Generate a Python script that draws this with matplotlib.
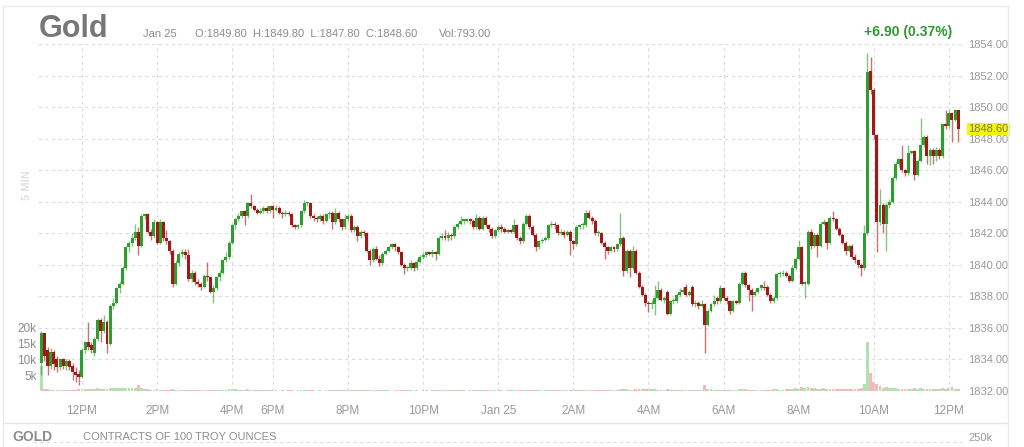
import matplotlib
matplotlib.use("Agg")
import matplotlib.pyplot as plt
from matplotlib.lines import Line2D
import numpy as np

plt.rcParams['font.family'] = ['Liberation Sans', 'DejaVu Sans']

# 5-minute gold bars, Jan 24 ~10:55 -> Jan 25 ~12:15 (trading time, no gaps)
opens = [
    1833.8, 1835.7, 1834.6, 1833.6, 1834.5, 1834.0, 1833.5, 1834.0, 1833.6, 1833.9,
    1833.6, 1833.2, 1833.1, 1832.9, 1834.6, 1835.1, 1834.9, 1834.4, 1835.3, 1836.5,
    1835.8, 1836.4, 1835.0, 1837.4, 1837.6, 1838.5, 1838.8, 1839.8, 1841.1, 1841.4,
    1841.7, 1842.1, 1841.2, 1843.1, 1843.2, 1842.1, 1841.8, 1842.7, 1841.4, 1842.7,
    1841.7, 1841.5, 1840.9, 1838.8, 1840.1, 1840.7, 1840.8, 1840.6, 1839.1, 1839.5,
    1838.9, 1838.8, 1838.6, 1839.3, 1839.2, 1838.3, 1838.5, 1839.2, 1839.5, 1840.3,
    1840.5, 1841.4, 1842.5, 1842.9, 1843.1, 1843.4, 1843.1, 1843.9, 1843.7, 1843.5,
    1843.3, 1843.4, 1843.6, 1843.4, 1843.7, 1843.5, 1843.6, 1843.3, 1843.2, 1843.3,
    1843.2, 1842.5, 1842.4, 1842.5, 1843.4, 1843.9, 1843.9, 1843.1, 1843.0, 1842.9,
    1843.1, 1842.8, 1843.2, 1843.3, 1842.7, 1843.3, 1842.9, 1842.4, 1842.9, 1843.1,
    1842.2, 1842.4, 1841.8, 1842.1, 1842.0, 1840.9, 1840.3, 1841.0, 1840.4, 1840.1,
    1840.7, 1840.9, 1841.1, 1841.3, 1841.1, 1840.8, 1840.0, 1839.8, 1839.8, 1840.1,
    1839.8, 1840.2, 1840.5, 1840.6, 1840.8, 1840.7, 1840.8, 1840.7, 1841.7, 1841.8,
    1841.7, 1841.9, 1841.8, 1842.4, 1842.6, 1842.8, 1842.8, 1842.9, 1842.8, 1842.4,
    1843.0, 1842.3, 1843.0, 1842.5, 1842.3, 1841.8, 1842.2, 1842.4, 1842.3, 1842.1,
    1842.2, 1842.1, 1842.5, 1841.7, 1841.5, 1842.6, 1843.1, 1842.4, 1841.9, 1841.1,
    1841.5, 1841.6, 1841.7, 1842.5, 1842.6, 1842.5, 1842.0, 1842.1, 1841.9, 1842.1,
    1841.5, 1841.3, 1842.4, 1842.5, 1842.5, 1843.3, 1843.0, 1842.8, 1842.0, 1842.0,
    1841.4, 1841.1, 1840.9, 1841.1, 1841.0, 1841.3, 1841.7, 1839.6, 1840.9, 1839.8,
    1840.9, 1839.5, 1838.6, 1838.1, 1837.6, 1837.5, 1837.5, 1837.9, 1838.4, 1837.8,
    1838.3, 1836.9, 1837.7, 1837.7, 1838.1, 1838.3, 1838.6, 1838.1, 1838.6, 1837.5,
    1837.6, 1837.4, 1837.5, 1836.2, 1837.1, 1837.5, 1837.9, 1837.7, 1838.5, 1837.9,
    1837.7, 1837.1, 1837.7, 1837.6, 1838.8, 1839.5, 1838.7, 1838.4, 1838.1, 1838.3,
    1838.5, 1838.6, 1838.6, 1838.1, 1837.7, 1837.9, 1839.4, 1839.4, 1839.5, 1839.3,
    1839.0, 1839.8, 1840.4, 1841.1, 1838.8, 1838.8, 1842.1, 1841.2, 1841.9, 1841.2,
    1842.6, 1842.7, 1841.4, 1843.0, 1842.9, 1842.3, 1841.9, 1841.4, 1840.9, 1841.2,
    1840.5, 1840.3, 1840.0, 1839.8, 1842.0, 1852.3, 1851.1, 1848.2, 1842.7, 1843.8,
    1842.6, 1843.8, 1844.0, 1845.5, 1846.4, 1846.7, 1846.0, 1845.8, 1847.1, 1847.2,
    1845.7, 1846.6, 1847.6, 1848.1, 1846.9, 1847.3, 1846.9, 1847.3, 1846.9, 1848.9,
    1848.8, 1849.6, 1849.2, 1849.8,
]
highs = [
    1835.8, 1835.7, 1834.8, 1834.7, 1834.6, 1834.2, 1834.1, 1834.1, 1834.0, 1834.0,
    1833.8, 1833.5, 1833.3, 1834.7, 1835.2, 1836.4, 1835.1, 1835.4, 1836.6, 1836.6,
    1836.8, 1836.5, 1837.5, 1837.9, 1838.6, 1839.0, 1839.9, 1841.2, 1841.5, 1842.0,
    1842.6, 1842.4, 1843.2, 1843.3, 1843.3, 1842.3, 1842.9, 1842.8, 1842.9, 1842.8,
    1842.2, 1841.6, 1841.0, 1840.3, 1840.8, 1841.0, 1841.0, 1841.0, 1839.7, 1839.6,
    1839.1, 1838.9, 1839.4, 1840.2, 1839.3, 1838.7, 1839.3, 1839.7, 1840.4, 1840.8,
    1841.5, 1842.6, 1843.0, 1843.3, 1843.5, 1843.5, 1844.0, 1844.5, 1843.8, 1843.6,
    1843.6, 1843.7, 1843.7, 1843.8, 1843.8, 1843.8, 1843.7, 1843.4, 1843.5, 1843.4,
    1843.3, 1842.6, 1842.6, 1843.5, 1844.1, 1844.0, 1844.0, 1843.2, 1843.1, 1843.2,
    1843.2, 1843.3, 1843.4, 1843.4, 1843.6, 1843.4, 1843.0, 1843.2, 1843.2, 1843.2,
    1842.5, 1842.5, 1842.2, 1842.2, 1842.1, 1841.0, 1841.1, 1841.2, 1840.6, 1840.8,
    1841.0, 1841.2, 1841.4, 1841.4, 1841.2, 1840.9, 1840.1, 1839.9, 1840.3, 1840.2,
    1840.4, 1840.6, 1840.8, 1840.9, 1840.9, 1841.0, 1840.9, 1841.8, 1842.0, 1842.2,
    1842.1, 1842.0, 1842.5, 1842.7, 1843.1, 1842.9, 1843.0, 1843.0, 1842.9, 1843.2,
    1843.1, 1843.1, 1843.1, 1842.6, 1842.4, 1842.3, 1842.5, 1842.6, 1842.4, 1842.3,
    1842.3, 1842.9, 1842.6, 1841.8, 1842.7, 1843.2, 1843.2, 1842.5, 1842.0, 1841.6,
    1841.7, 1841.8, 1842.6, 1842.8, 1842.7, 1842.6, 1842.3, 1842.2, 1842.2, 1842.2,
    1841.6, 1842.5, 1842.6, 1842.7, 1843.5, 1843.5, 1843.1, 1842.9, 1842.2, 1842.1,
    1841.5, 1841.2, 1841.2, 1841.2, 1841.4, 1843.3, 1841.8, 1841.0, 1841.0, 1841.2,
    1841.0, 1839.6, 1838.7, 1838.2, 1837.7, 1837.8, 1838.7, 1839.0, 1838.5, 1838.0,
    1838.4, 1837.8, 1837.9, 1838.2, 1838.5, 1838.6, 1838.8, 1838.4, 1838.7, 1837.8,
    1837.7, 1837.8, 1837.6, 1837.2, 1837.6, 1838.1, 1838.0, 1838.7, 1838.6, 1838.0,
    1837.8, 1837.8, 1837.8, 1838.9, 1839.6, 1839.6, 1838.8, 1838.5, 1838.4, 1838.6,
    1838.8, 1839.0, 1838.7, 1838.2, 1838.0, 1839.5, 1839.6, 1839.7, 1839.6, 1839.4,
    1840.0, 1840.5, 1841.6, 1841.2, 1839.0, 1842.2, 1842.3, 1842.0, 1842.0, 1842.7,
    1842.9, 1842.8, 1843.1, 1843.4, 1843.0, 1842.4, 1842.0, 1841.5, 1841.3, 1841.3,
    1840.7, 1840.4, 1840.1, 1842.5, 1853.4, 1853.2, 1851.2, 1848.3, 1844.8, 1843.9,
    1843.9, 1844.2, 1845.6, 1846.6, 1846.8, 1847.6, 1846.1, 1847.6, 1847.3, 1847.3,
    1846.7, 1849.3, 1848.2, 1848.2, 1847.4, 1847.4, 1847.5, 1847.4, 1849.0, 1849.8,
    1849.8, 1849.7, 1849.9, 1849.8,
]
lows = [
    1833.0, 1833.9, 1833.0, 1833.4, 1833.3, 1833.2, 1833.3, 1833.4, 1833.3, 1833.3,
    1832.7, 1832.6, 1832.4, 1832.8, 1834.4, 1834.6, 1834.4, 1834.2, 1835.2, 1835.1,
    1835.7, 1834.4, 1834.9, 1837.2, 1837.5, 1838.2, 1838.7, 1839.7, 1840.8, 1841.2,
    1841.6, 1840.6, 1841.1, 1842.9, 1842.0, 1841.6, 1841.7, 1841.3, 1841.3, 1841.5,
    1841.3, 1840.7, 1838.6, 1838.7, 1839.9, 1840.5, 1840.4, 1839.0, 1838.9, 1838.7,
    1838.6, 1838.4, 1838.5, 1839.0, 1838.2, 1837.6, 1838.4, 1839.0, 1839.4, 1840.2,
    1840.4, 1841.3, 1842.3, 1842.8, 1843.0, 1842.5, 1843.0, 1843.6, 1843.4, 1843.2,
    1843.2, 1843.3, 1843.3, 1843.3, 1843.0, 1843.4, 1843.2, 1843.0, 1843.1, 1843.1,
    1842.4, 1842.3, 1842.3, 1842.4, 1843.3, 1843.7, 1843.0, 1842.8, 1842.7, 1842.8,
    1842.6, 1842.7, 1843.0, 1842.3, 1842.6, 1842.7, 1842.2, 1842.3, 1842.8, 1842.1,
    1842.1, 1841.5, 1841.7, 1841.8, 1840.8, 1840.0, 1840.2, 1840.3, 1839.9, 1840.0,
    1840.6, 1840.8, 1841.0, 1840.9, 1840.7, 1839.9, 1839.4, 1839.6, 1839.7, 1839.6,
    1839.7, 1840.1, 1840.4, 1840.5, 1840.6, 1840.5, 1840.3, 1840.6, 1841.6, 1841.6,
    1841.5, 1841.6, 1841.7, 1842.3, 1842.5, 1842.6, 1842.7, 1842.6, 1842.3, 1842.3,
    1842.2, 1842.2, 1842.4, 1842.1, 1841.7, 1841.7, 1842.1, 1842.1, 1842.0, 1842.0,
    1842.0, 1842.0, 1841.6, 1841.3, 1841.4, 1842.5, 1842.3, 1841.8, 1840.9, 1841.0,
    1841.4, 1841.5, 1841.6, 1842.4, 1842.3, 1841.9, 1841.9, 1841.7, 1841.8, 1840.6,
    1841.0, 1841.2, 1842.3, 1842.3, 1842.4, 1842.9, 1842.6, 1841.9, 1841.8, 1841.3,
    1840.4, 1840.7, 1840.8, 1840.8, 1840.9, 1841.2, 1839.3, 1839.5, 1839.2, 1839.7,
    1839.4, 1838.5, 1838.0, 1837.4, 1837.0, 1837.2, 1836.8, 1837.8, 1837.7, 1837.6,
    1836.8, 1836.8, 1837.5, 1837.6, 1838.0, 1838.2, 1838.0, 1838.0, 1837.4, 1837.3,
    1837.2, 1837.3, 1834.4, 1836.1, 1837.0, 1837.4, 1837.5, 1837.6, 1837.8, 1837.5,
    1836.9, 1837.0, 1837.5, 1837.5, 1838.7, 1838.6, 1837.7, 1837.1, 1838.0, 1838.2,
    1838.4, 1838.4, 1838.0, 1837.6, 1837.6, 1837.8, 1839.2, 1839.3, 1839.2, 1838.9,
    1838.9, 1839.7, 1840.3, 1838.7, 1837.9, 1838.7, 1841.0, 1841.1, 1840.5, 1841.1,
    1842.5, 1841.0, 1841.3, 1842.8, 1842.2, 1841.8, 1841.3, 1840.6, 1840.8, 1840.4,
    1840.1, 1839.8, 1839.3, 1839.7, 1841.9, 1850.8, 1848.0, 1840.8, 1842.5, 1842.0,
    1840.9, 1843.6, 1843.9, 1845.4, 1846.2, 1845.9, 1845.6, 1845.7, 1847.0, 1845.4,
    1845.6, 1846.5, 1847.5, 1846.4, 1846.3, 1846.4, 1846.6, 1846.7, 1846.8, 1848.6,
    1848.7, 1847.8, 1849.1, 1847.8,
]
closes = [
    1835.7, 1834.2, 1833.6, 1834.5, 1833.7, 1833.5, 1834.0, 1833.6, 1833.9, 1833.5,
    1833.2, 1833.0, 1832.9, 1834.6, 1835.1, 1834.8, 1834.6, 1835.3, 1836.5, 1835.8,
    1836.4, 1835.0, 1837.4, 1837.6, 1838.5, 1838.8, 1839.8, 1841.1, 1841.4, 1841.7,
    1842.1, 1841.2, 1843.1, 1843.2, 1842.1, 1841.8, 1842.7, 1841.4, 1842.7, 1841.7,
    1841.5, 1840.9, 1838.8, 1840.1, 1840.7, 1840.8, 1840.6, 1839.1, 1839.5, 1838.9,
    1838.8, 1838.6, 1839.3, 1839.2, 1838.3, 1838.5, 1839.2, 1839.5, 1840.3, 1840.5,
    1841.4, 1842.5, 1842.9, 1843.1, 1843.4, 1843.1, 1843.9, 1843.7, 1843.5, 1843.3,
    1843.4, 1843.6, 1843.4, 1843.7, 1843.5, 1843.6, 1843.3, 1843.2, 1843.3, 1843.2,
    1842.5, 1842.4, 1842.5, 1843.4, 1843.9, 1843.9, 1843.1, 1843.0, 1842.9, 1843.1,
    1842.8, 1843.2, 1843.3, 1842.7, 1843.3, 1842.9, 1842.4, 1842.9, 1843.1, 1842.2,
    1842.4, 1841.8, 1842.1, 1842.0, 1840.9, 1840.3, 1841.0, 1840.4, 1840.1, 1840.7,
    1840.9, 1841.1, 1841.3, 1841.1, 1840.8, 1840.0, 1839.8, 1839.8, 1840.1, 1839.8,
    1840.2, 1840.5, 1840.6, 1840.8, 1840.7, 1840.8, 1840.7, 1841.7, 1841.8, 1841.7,
    1841.9, 1841.8, 1842.4, 1842.6, 1842.8, 1842.8, 1842.9, 1842.8, 1842.4, 1843.0,
    1842.3, 1843.0, 1842.5, 1842.3, 1841.8, 1842.2, 1842.4, 1842.3, 1842.1, 1842.2,
    1842.1, 1842.5, 1841.7, 1841.5, 1842.6, 1843.1, 1842.4, 1841.9, 1841.1, 1841.5,
    1841.6, 1841.7, 1842.5, 1842.6, 1842.5, 1842.0, 1842.1, 1841.9, 1842.1, 1841.5,
    1841.3, 1842.4, 1842.5, 1842.5, 1843.3, 1843.0, 1842.8, 1842.0, 1842.0, 1841.4,
    1841.1, 1840.9, 1841.1, 1841.0, 1841.3, 1841.7, 1839.6, 1840.9, 1839.8, 1840.9,
    1839.5, 1838.6, 1838.1, 1837.6, 1837.5, 1837.5, 1837.9, 1838.4, 1837.8, 1837.8,
    1836.9, 1837.7, 1837.7, 1838.1, 1838.3, 1838.4, 1838.1, 1838.3, 1837.5, 1837.6,
    1837.4, 1837.5, 1836.2, 1837.1, 1837.5, 1837.7, 1837.7, 1838.5, 1837.9, 1837.7,
    1837.1, 1837.7, 1837.6, 1838.8, 1839.5, 1838.7, 1838.4, 1838.1, 1838.3, 1838.5,
    1838.7, 1838.5, 1838.1, 1837.7, 1837.9, 1839.4, 1839.4, 1839.5, 1839.3, 1839.0,
    1839.8, 1840.4, 1841.1, 1838.8, 1838.8, 1842.1, 1841.2, 1841.9, 1841.2, 1842.6,
    1842.7, 1841.4, 1843.0, 1842.9, 1842.3, 1841.9, 1841.4, 1840.9, 1841.2, 1840.5,
    1840.3, 1840.0, 1839.8, 1842.0, 1852.2, 1851.1, 1848.2, 1842.7, 1843.8, 1842.6,
    1843.8, 1844.0, 1845.5, 1846.4, 1846.7, 1846.0, 1845.8, 1847.1, 1847.2, 1845.7,
    1846.6, 1847.6, 1848.1, 1846.9, 1847.3, 1846.9, 1847.3, 1846.9, 1848.9, 1848.8,
    1849.6, 1849.2, 1849.8, 1848.6,
]
volumes = [
    8000, 600, 500, 400, 450, 350, 400, 300, 350, 300,
    450, 400, 500, 700, 600, 650, 500, 700, 800, 600,
    550, 750, 900, 800, 850, 900, 1000, 1100, 900, 800,
    1100, 2000, 900, 700, 500, 450, 400, 500, 400, 350,
    300, 350, 600, 400, 300, 250, 300, 450, 300, 250,
    300, 250, 300, 400, 350, 300, 350, 300, 400, 350,
    500, 600, 700, 450, 400, 350, 500, 400, 300, 250,
    200, 250, 200, 300, 250, 200, 150, 200, 150, 200,
    250, 150, 200, 300, 250, 200, 250, 200, 150, 200,
    150, 200, 250, 300, 250, 200, 300, 400, 600, 300,
    250, 300, 200, 250, 350, 400, 300, 250, 300, 200,
    250, 200, 150, 200, 250, 300, 350, 250, 200, 150,
    200, 150, 250, 200, 150, 200, 250, 400, 300, 200,
    250, 200, 300, 250, 300, 200, 150, 200, 250, 300,
    250, 300, 200, 250, 300, 200, 250, 200, 150, 200,
    250, 300, 350, 300, 400, 350, 300, 350, 450, 300,
    250, 300, 350, 300, 250, 300, 250, 300, 250, 400,
    350, 400, 300, 350, 450, 350, 300, 400, 300, 350,
    400, 300, 250, 300, 350, 500, 700, 600, 450, 400,
    550, 600, 650, 700, 750, 600, 500, 450, 400, 350,
    500, 400, 300, 350, 300, 250, 300, 400, 350, 300,
    250, 300, 2000, 700, 500, 400, 350, 300, 400, 350,
    400, 350, 300, 600, 700, 500, 400, 450, 350, 300,
    350, 300, 400, 350, 700, 500, 400, 350, 500, 600,
    700, 900, 600, 1200, 800, 1400, 900, 1100, 700, 600,
    800, 700, 600, 500, 550, 600, 500, 650, 600, 550,
    600, 700, 900, 2200, 15500, 5800, 3000, 2200, 1500, 1100,
    1200, 900, 1000, 800, 700, 750, 600, 700, 650, 800,
    600, 900, 700, 650, 600, 700, 550, 600, 900, 700,
    800, 1300, 600, 500,
]

# time labels and the bar at which each falls
tick_bars = [13, 37, 61, 74, 98, 122, 146, 170, 194, 218, 242, 266, 290]
tick_labels = ['12PM', '2PM', '4PM', '6PM', '8PM', '10PM', 'Jan 25',
               '2AM', '4AM', '6AM', '8AM', '10AM', '12PM']
price_ticks = [1832, 1834, 1836, 1838, 1840, 1842, 1844, 1846, 1848, 1850, 1852, 1854]
vol_ticks = [5000, 10000, 15000, 20000]
vol_labels = ['5k', '10k', '15k', '20k']
last_price = 1848.60

W, H = 1024, 447
GREEN, RED = '#2e9f2e', '#a01818'
GRID = '#dcdcdc'
TXT = '#8c8c8c'


def fx(x):
    return x / W


def fy(y):
    return 1 - y / H


fig = plt.figure(figsize=(W / 100, H / 100), dpi=100)
fig.patch.set_facecolor('white')

ax = fig.add_axes([fx(38), fy(391), (962 - 38) / W, (391 - 44) / H])
ax2 = ax.twinx()
ax.set_zorder(ax2.get_zorder() + 1)
ax.patch.set_visible(False)

o = np.array(opens)
h = np.array(highs)
l = np.array(lows)
c = np.array(closes)
v = np.array(volumes)
idx = np.arange(len(c))
up = c >= o

# volume
ax2.bar(idx[up], v[up], width=0.9, color='#7fcf7f', alpha=0.6, linewidth=0)
ax2.bar(idx[~up], v[~up], width=0.9, color='#f08a8a', alpha=0.6, linewidth=0)
ax2.set_ylim(0, 110000)
ax2.yaxis.set_ticks_position('left')
ax2.set_yticks(vol_ticks)
ax2.set_yticklabels(vol_labels)
ax2.tick_params(axis='y', length=0, pad=1, labelsize=8.5, labelcolor=TXT)
for s in ax2.spines.values():
    s.set_visible(False)

# candles
ax.vlines(idx[up], l[up], h[up], color=GREEN, alpha=0.6, lw=1.0)
ax.vlines(idx[~up], l[~up], h[~up], color=RED, alpha=0.6, lw=1.0)
ax.bar(idx[up], np.maximum(c[up] - o[up], 0.08), bottom=o[up], width=0.95,
       color=GREEN, linewidth=0)
ax.bar(idx[~up], o[~up] - c[~up], bottom=c[~up], width=0.95,
       color=RED, linewidth=0)

ax.set_xlim(-1.05, 294.2)
ax.set_ylim(1832, 1854)
ax.set_xticks(tick_bars)
ax.set_xticklabels(tick_labels)
ax.set_yticks(price_ticks)
ax.set_yticklabels([f'{p:.2f}' for p in price_ticks])
ax.yaxis.tick_right()
ax.tick_params(axis='x', length=0, labelsize=8.5, labelcolor='#999999', pad=10)
ax.tick_params(axis='y', length=0, labelsize=8, labelcolor='#999999', pad=4.5)
ax.grid(True, color=GRID, lw=0.8, ls=(0, (3, 3)))
ax.set_axisbelow(True)
for s in ax.spines.values():
    s.set_visible(False)

# last price highlight
ax.annotate(f'{last_price:.2f}', xy=(1, last_price), xycoords=('axes fraction', 'data'),
            xytext=(4.5, 0), textcoords='offset points', va='center', ha='left',
            fontsize=8, color='#777777',
            bbox=dict(boxstyle='square,pad=0.1', fc='#f5f50a', ec='none'))

# header
fig.text(fx(39), fy(37), 'Gold', fontsize=22, fontweight='bold', color='#777777', va='baseline')
fig.text(fx(143), fy(37), 'Jan 25', fontsize=8, color=TXT, va='baseline')
fig.text(fx(195), fy(37), 'O:1849.80  H:1849.80  L:1847.80  C:1848.60',
         fontsize=8, color=TXT, va='baseline')
fig.text(fx(439), fy(37), 'Vol:793.00', fontsize=8, color=TXT, va='baseline')
fig.text(fx(952), fy(36), '+6.90 (0.37%)', fontsize=10, fontweight='bold',
         color='#2e9a2e', ha='right', va='baseline')
fig.text(fx(27), fy(185), '5 MIN', rotation=90, fontsize=8, fontweight='bold',
         color='#e0e0e0', ha='center', va='center')

# footer
fig.text(fx(12), fy(441), 'GOLD', fontsize=10, fontweight='bold', color=TXT, va='baseline')
fig.text(fx(83), fy(440), 'CONTRACTS OF 100 TROY OUNCES', fontsize=8, color=TXT, va='baseline')
fig.text(fx(968), fy(438), '250k', fontsize=8, color='#999999', va='center')

# frame lines
fig.add_artist(Line2D([fx(3), fx(1008)], [fy(6), fy(6)], color='#ebebeb', lw=1))
fig.add_artist(Line2D([fx(3), fx(3)], [fy(6), fy(447)], color='#ebebeb', lw=1))
fig.add_artist(Line2D([fx(1008), fx(1008)], [fy(6), fy(447)], color='#ebebeb', lw=1))
fig.add_artist(Line2D([fx(3), fx(1008)], [fy(423), fy(423)], color='#e6e6e6', lw=1))
fig.add_artist(Line2D([fx(33), fx(962)], [fy(442), fy(442)], color=GRID, lw=0.8, ls=(0, (3, 3))))

fig.savefig('out.png', dpi=100)
